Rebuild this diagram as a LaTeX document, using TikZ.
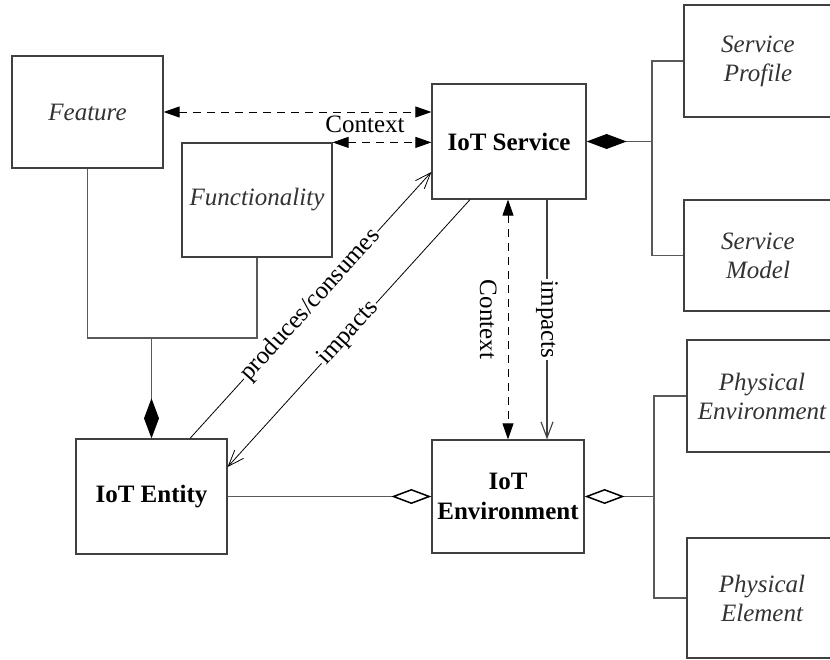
\documentclass[tikz,border=0pt]{standalone}
\usepackage{fontspec}
\setmainfont{Liberation Serif}
\usetikzlibrary{arrows.meta,calc}
\tikzset{
  fdia/.tip={Diamond[length=40bp,width=15bp,color=black]},
  odia/.tip={Diamond[open,length=40bp,width=15bp,color=black,fill=white]},
  ctip/.tip={Triangle[length=16bp,width=11bp]},
  btip/.tip={Straight Barb[length=16bp,width=12bp]},
}
\begin{document}
\begin{tikzpicture}[x=1bp,y=1bp,
  box/.style={draw=black!75, line width=1.2bp, fill=white, inner sep=0pt, align=center},
  ital/.style={box, font=\fontsize{25bp}{29bp}\selectfont\itshape, text=black!80},
  bld/.style={box, font=\fontsize{25bp}{30bp}\selectfont\bfseries},
  struct/.style={draw=black!65, line width=1.5bp},
  ctx/.style={draw=black, line width=0.9bp, dash pattern=on 8bp off 6bp, {ctip}-{ctip}},
  rel/.style={draw=black, line width=0.8bp, -{btip}},
  lbl/.style={fill=white, inner sep=1.5bp, font=\fontsize{25bp}{29bp}\selectfont},
]
\useasboundingbox[fill=white] (0,0) rectangle (830,-660);

% boxes
\node[ital, minimum width=151bp, minimum height=112bp] (feature) at (87.5,-112) {Feature};
\node[ital, minimum width=150bp, minimum height=114bp] (func) at (257,-200) {Functionality};
\node[bld, minimum width=154bp, minimum height=115bp] (service) at (509,-141.5) {IoT Service};
\node[bld, minimum width=151bp, minimum height=115bp] (entity) at (151.5,-496.5) {IoT Entity};
\node[bld, minimum width=152bp, minimum height=113bp] (env) at (508,-496.5) {IoT\\Environment};
\node[ital, minimum width=148bp, minimum height=112bp] (profile) at (758,-61) {Service\\Profile};
\node[ital, minimum width=148bp, minimum height=111bp] (model) at (758,-255.5) {Service\\Model};
\node[ital, minimum width=150bp, minimum height=112bp] (phenv) at (762,-396) {Physical\\Environment};
\node[ital, minimum width=150bp, minimum height=120bp] (phel) at (762,-598) {Physical\\Element};

% composition Feature/Functionality -> Entity
\coordinate (join) at (151.5,-338);
\draw[struct] (feature.south) |- (join);
\draw[struct] (func.south) |- (join);
\draw[struct, -{fdia}] (join) -- (entity.north);

% Service composition
\coordinate (sj) at (652,-141.5);
\draw[struct, {fdia}-] (service.east) -- (sj);
\draw[struct] (profile.west) -| (sj) |- (model.west);

% Environment aggregation
\coordinate (ej) at (654,-496.5);
\draw[struct, {odia}-] (env.east) -- (ej);
\draw[struct] (phenv.west) -| (ej) |- (phel.west);
\draw[struct, -{odia}] (entity.east) -- (env.west);

% Context arrows
\draw[ctx] (feature.east) -- (feature.east -| service.west);
\draw[ctx] (func.north east) -- (func.north east -| service.west);
\node[font=\fontsize{25bp}{29bp}\selectfont, anchor=base, inner sep=0pt] (ctxlabel) at (365,-133) {Context};

\draw[ctx] (env.north |- service.south) -- (env.north)
  node[midway, rotate=-90, anchor=north, inner sep=11bp, font=\fontsize{25bp}{29bp}\selectfont] {Context};
\draw[rel, draw=black!75, line width=1.1bp] ([xshift=38bp]service.south) -- ([xshift=38bp]service.south |- env.north)
  node[midway, rotate=-90, lbl] {impacts};

% diagonals
\draw[rel] ([xshift=38.5bp]entity.north) -- ([yshift=-30.5bp]service.west)
  node[midway, sloped, lbl] {produces/consumes};
\draw[rel] ([xshift=-39bp]service.south) -- ([yshift=29.5bp]entity.east)
  node[midway, sloped, lbl] {impacts};
\end{tikzpicture}
\end{document}
